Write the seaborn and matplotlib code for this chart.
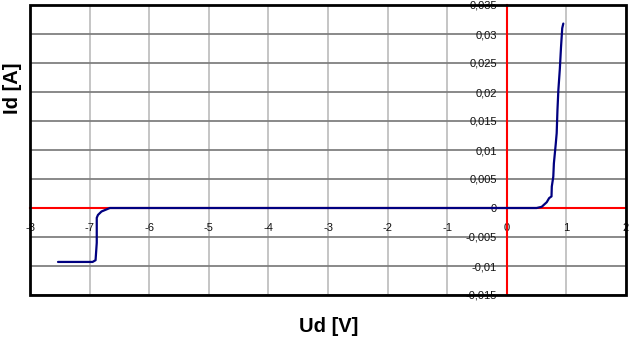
import matplotlib
matplotlib.use("Agg")
import matplotlib.pyplot as plt
from matplotlib.patches import Rectangle
import seaborn as sns
import pandas as pd

# Diode I-V characteristic (Ud in V, Id in A)
ud = [-7.53, -6.95, -6.90, -6.88, -6.88, -6.86, -6.80, -6.66, -6.0, -3.0, 0.0, 0.50,
      0.585, 0.67, 0.71, 0.75, 0.755, 0.78, 0.79, 0.82, 0.837, 0.85, 0.865, 0.89, 0.91, 0.93, 0.948]
id_ = [-0.0093, -0.0093, -0.0090, -0.0060, -0.0017, -0.0012, -0.0006, 0.0, 0.0, 0.0, 0.0, 0.0,
       0.0002, 0.0010, 0.0017, 0.0020, 0.0037, 0.0054, 0.0077, 0.0109, 0.0129, 0.0169, 0.0203,
       0.0240, 0.0278, 0.0310, 0.0318]

x_ticks = [-8, -7, -6, -5, -4, -3, -2, -1, 0, 1, 2]
y_ticks = [-0.015, -0.01, -0.005, 0, 0.005, 0.01, 0.015, 0.02, 0.025, 0.03, 0.035]
y_tick_labels = ["-0,015", "-0,01", "-0,005", "0", "0,005", "0,01", "0,015", "0,02", "0,025", "0,03", "0,035"]
x_tick_labels = [str(v) for v in x_ticks]

sns.set_style("white")
plt.rcParams['font.family'] = ['Liberation Sans', 'DejaVu Sans']

fig = plt.figure(figsize=(6.3, 3.41), dpi=100)
ax = fig.add_axes([30/630, 46/341, 596/630, 290/341])

df = pd.DataFrame({"Ud": ud, "Id": id_})
sns.lineplot(data=df, x="Ud", y="Id", sort=False, estimator=None, color="#000080",
             linewidth=1.6, ax=ax, zorder=5)

ax.set_xlim(-8, 2)
ax.set_ylim(-0.015, 0.035)
ax.set_xticks(x_ticks)
ax.set_xticklabels(x_tick_labels)
ax.set_yticks(y_ticks)
ax.set_yticklabels(y_tick_labels)
ax.set_xlabel("")
ax.set_ylabel("")

# grid
ax.set_axisbelow(True)
ax.xaxis.grid(True, color="#c0c0c0", linewidth=1.3)
ax.yaxis.grid(True, color="#808080", linewidth=1.3)

# red axes through zero
ax.spines['left'].set_position(('data', 0))
ax.spines['bottom'].set_position(('data', 0))
for s in ['left', 'bottom']:
    ax.spines[s].set_color('red')
    ax.spines[s].set_linewidth(1.5)
    ax.spines[s].set_zorder(4)
for s in ['top', 'right']:
    ax.spines[s].set_visible(False)
ax.tick_params(axis='both', direction='out', length=3, width=1.5, color='red',
               labelsize=8, labelcolor='#111111')
ax.tick_params(axis='x', pad=8)
ax.tick_params(axis='y', pad=4)

ax.add_patch(Rectangle((0, 0), 1, 1, transform=ax.transAxes, fill=False,
                       linewidth=2, edgecolor='black', clip_on=False, zorder=10))

fig.text(12/630, 1 - 88/341, "Id [A]", rotation=90, fontsize=14.5, fontweight='bold',
         ha='center', va='center', color='black')
fig.text(329/630, 1 - 327/341, "Ud [V]", fontsize=14.5, fontweight='bold',
         ha='center', va='center', color='black')

fig.savefig("out.png", dpi=100)
